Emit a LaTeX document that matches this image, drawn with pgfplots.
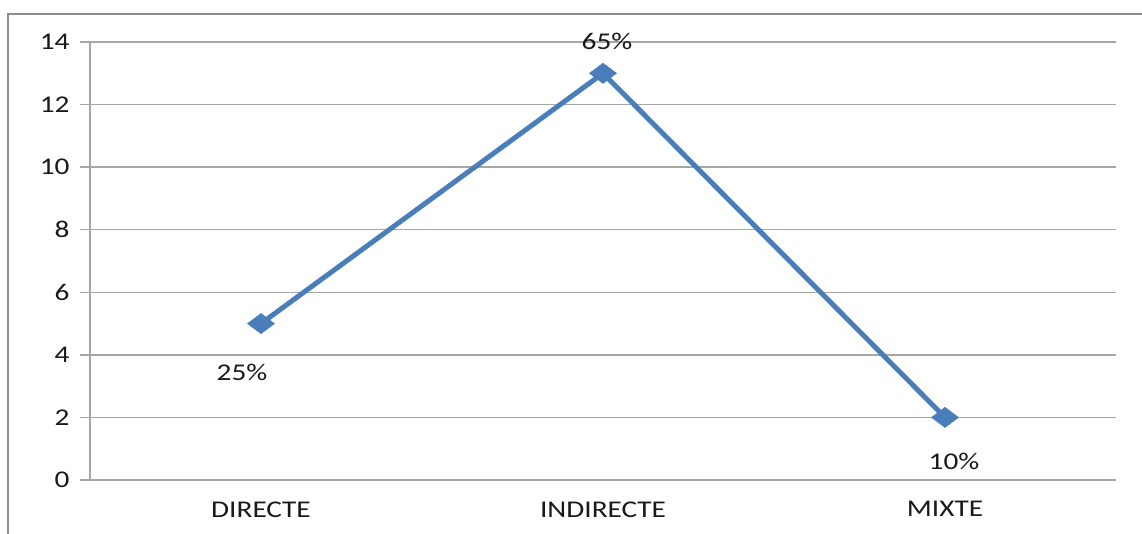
\documentclass[border=0pt]{standalone}
\usepackage{pgfplots}
\pgfplotsset{compat=1.18}
\usepackage{fontspec}
\setmainfont{Carlito}[FakeStretch=1.22]
\definecolor{linblue}{HTML}{4A7EBB}
\definecolor{gridgray}{HTML}{A6A6A6}
\definecolor{framegray}{HTML}{8C8C8C}
\begin{document}
\begin{tikzpicture}[x=1pt,y=1pt]
  \useasboundingbox (0,0) rectangle (1142,534);
  % outer chart frame (open at the bottom and right)
  \draw[framegray, line width=2.2pt] (8,-5) -- (8,520) -- (1150,520);
  \begin{axis}[
    at={(90pt,54pt)}, anchor=south west,
    scale only axis, width=1026pt, height=438pt,
    xmin=-0.5, xmax=2.5, ymin=0, ymax=14,
    ytick={0,2,...,14},
    xtick={0,1,2},
    xticklabels={DIRECTE,INDIRECTE,MIXTE},
    extra x ticks={-0.5,0.5,1.5,2.5},
    extra x tick labels={},
    extra x tick style={
      major tick length=9pt, tick pos=left,
      tick style={gridgray, line width=1.3pt},
      xmajorgrids=false},
    major x tick style={draw=none},
    axis x line*=bottom, axis y line*=left,
    axis line style={gridgray, line width=1.3pt, -},
    ymajorgrids, grid style={gridgray, line width=1.3pt},
    ytick style={gridgray, line width=1.3pt},
    tick align=outside, major tick length=10pt,
    tick label style={font=\fontsize{24}{28}\selectfont, text=black!90},
    yticklabel style={xshift=-7pt},
    xticklabel style={yshift=-8pt},
    /pgf/number format/assume math mode=true,
    clip=false,
  ]
    \addplot[linblue, line width=5pt, mark=diamond*,
      mark size=13.5pt,
      mark options={rotate=90, fill=linblue, draw=linblue, line width=0.5pt}]
      coordinates {(0,5) (1,13) (2,2)};
    \node[font=\fontsize{24}{28}\selectfont, text=black!90]
      at (axis cs:0,5) [xshift=-19pt, yshift=-49pt] {25\%};
    \node[font=\fontsize{24}{28}\selectfont, text=black!90]
      at (axis cs:1,13) [xshift=4pt, yshift=32pt] {65\%};
    \node[font=\fontsize{24}{28}\selectfont, text=black!90]
      at (axis cs:2,2) [xshift=9pt, yshift=-44pt] {10\%};
  \end{axis}
\end{tikzpicture}
\end{document}
